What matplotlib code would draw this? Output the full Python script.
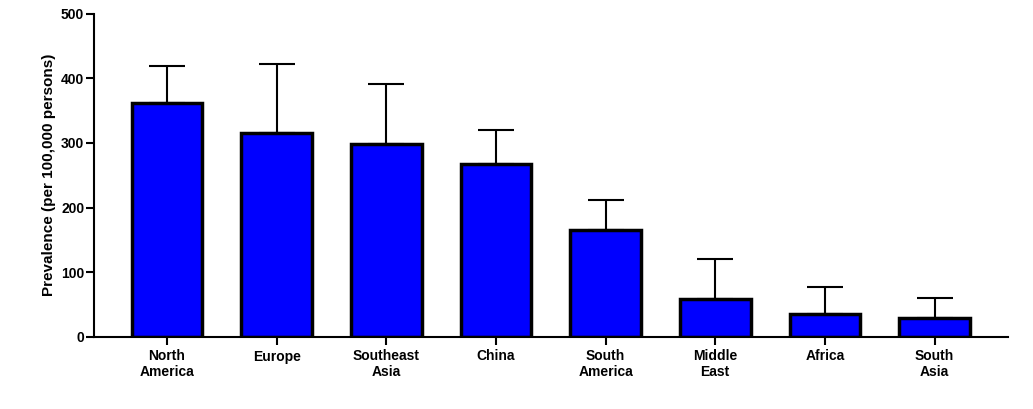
import matplotlib
matplotlib.use("Agg")
import matplotlib.pyplot as plt

regions = ["North\nAmerica", "Europe", "Southeast\nAsia", "China", "South\nAmerica", "Middle\nEast", "Africa", "South\nAsia"]
prevalence = [362, 315, 299, 268, 166, 58, 35, 29]
upper_err = [57, 107, 92, 52, 46, 62, 42, 31]

plt.rcParams['font.family'] = ['Liberation Sans', 'DejaVu Sans']

fig = plt.figure(figsize=(10.33, 4.09), dpi=100)
ax = fig.add_axes([94/1033, 1-337/409, (1008-94)/1033, (337-13.5)/409])

x = list(range(len(regions)))
ax.bar(x, prevalence, width=0.645, color="#0000ff", edgecolor="black", linewidth=2.5, zorder=2)
ax.errorbar(x, prevalence, yerr=[[0]*len(x), upper_err], fmt="none", ecolor="black", elinewidth=1.5,
            capsize=13, capthick=1.5, zorder=3)

ax.set_xlim(-0.666, 7.67)
ax.set_ylim(0, 500)
ax.set_yticks([0, 100, 200, 300, 400, 500])
ax.set_xticks(x)
ax.set_xticklabels(regions, fontsize=10, fontweight="bold", linespacing=1.15)
ax.set_ylabel("Prevalence (per 100,000 persons)", fontsize=10.95, fontweight="bold", labelpad=3.5)
for lab in ax.get_yticklabels():
    lab.set_fontsize(10)
    lab.set_fontweight("bold")

ax.spines["top"].set_visible(False)
ax.spines["right"].set_visible(False)
ax.spines["left"].set_linewidth(1.5)
ax.spines["bottom"].set_linewidth(1.5)
ax.tick_params(axis="x", width=1.5, length=5.5, pad=3.5)
ax.tick_params(axis="y", width=1.5, length=5.5, pad=1.5)

fig.savefig("out.png", dpi=100)
